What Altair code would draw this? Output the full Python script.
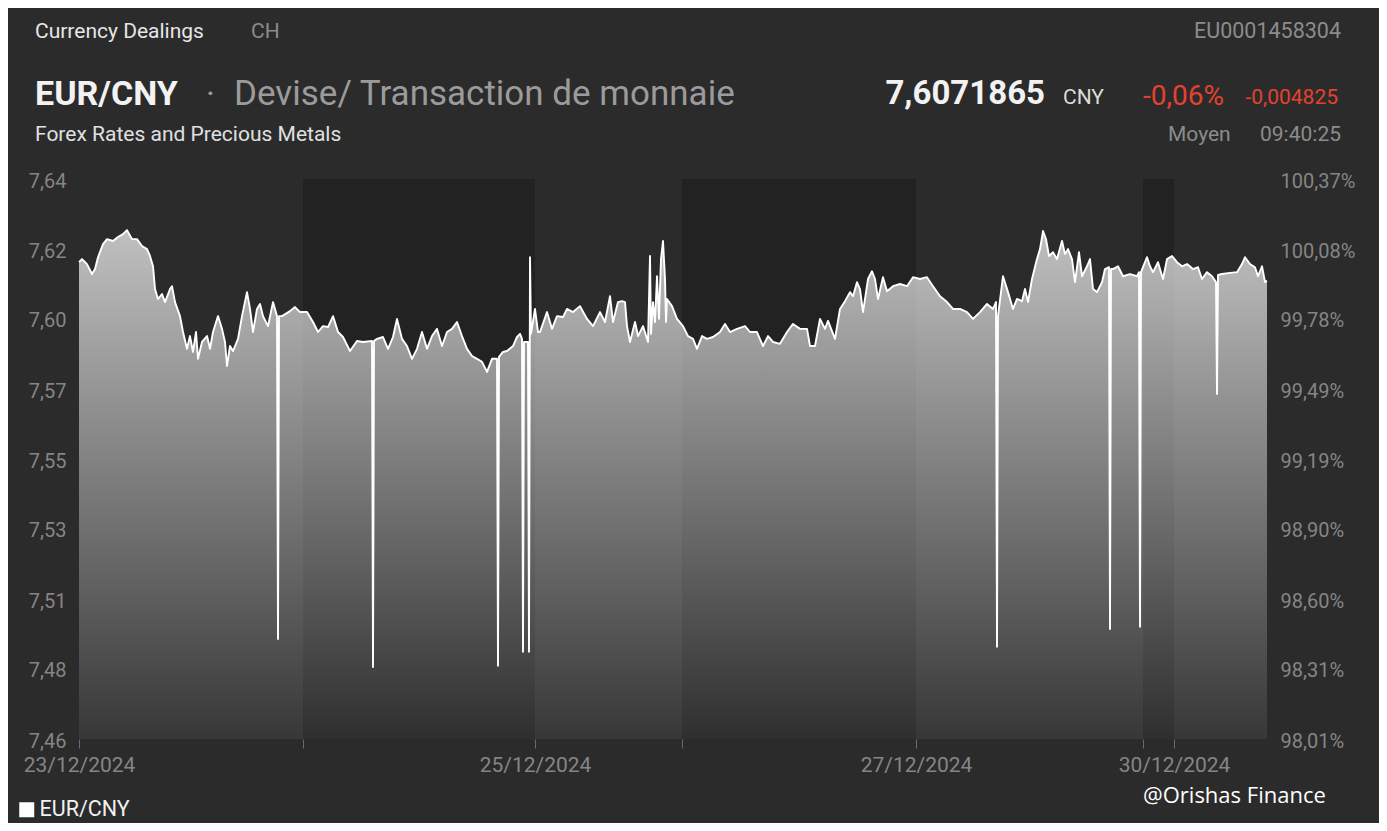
import json
import pandas as pd
import altair as alt

SERIES = "EUR/CNY"

# trading-time index (compressed sessions) and EUR/CNY mid rate
t_23 = [0, 3, 8, 13, 16, 19, 24, 28, 34, 39, 44, 48, 53, 58, 63, 68, 71, 74, 76, 79,
        83, 86, 91, 93, 96, 101, 104, 108, 111, 114, 117, 119, 123, 128, 131, 134, 139,
        143, 146, 148, 151, 154, 159, 163, 168, 171, 174, 178, 181, 184, 189, 194, 198,
        199, 200, 203, 211, 216, 221]
r_23 = [7.6132, 7.6142, 7.6126, 7.6094, 7.6110, 7.6148, 7.6190, 7.6206, 7.6200, 7.6213,
        7.6222, 7.6235, 7.6206, 7.6206, 7.6184, 7.6174, 7.6152, 7.6119, 7.6046, 7.6014,
        7.6030, 7.6004, 7.6046, 7.6055, 7.6004, 7.5959, 7.5908, 7.5854, 7.5895, 7.5844,
        7.5908, 7.5822, 7.5876, 7.5895, 7.5854, 7.5908, 7.5959, 7.5918, 7.5876, 7.5799,
        7.5863, 7.5847, 7.5886, 7.5959, 7.6036, 7.5982, 7.5908, 7.5982, 7.5998, 7.5959,
        7.5927, 7.6004, 7.5959, 7.4923, 7.5959, 7.5959, 7.5975, 7.5988, 7.5972]

t_24 = [228, 234, 239, 244, 249, 254, 259, 264, 271, 278, 284, 293, 294, 295, 298, 304,
        309, 314, 318, 323, 328, 333, 338, 343, 348, 353, 358, 363, 368, 373, 378, 383,
        388, 393, 398, 403, 408, 413, 418, 419, 420, 424, 428, 434, 438, 441, 443, 444,
        445, 449, 450, 451, 452]
r_24 = [7.5972, 7.5940, 7.5908, 7.5927, 7.5924, 7.5959, 7.5908, 7.5892, 7.5847, 7.5879,
        7.5876, 7.5879, 7.4833, 7.5879, 7.5886, 7.5892, 7.5854, 7.5892, 7.5950, 7.5886,
        7.5863, 7.5822, 7.5854, 7.5908, 7.5854, 7.5895, 7.5918, 7.5863, 7.5908, 7.5918,
        7.5940, 7.5895, 7.5854, 7.5831, 7.5822, 7.5812, 7.5780, 7.5822, 7.5822, 7.4837,
        7.5828, 7.5844, 7.5847, 7.5863, 7.5892, 7.5902, 7.5886, 7.4882, 7.5876, 7.5876,
        7.4882, 7.6148, 7.5902]

t_25 = [456, 459, 461, 468, 473, 478, 484, 488, 494, 501, 508, 514, 521, 526, 531, 534,
        539, 543, 546, 548, 551, 556, 559, 564, 569, 571, 572, 574, 576, 578, 580, 582,
        584, 586, 587, 588, 593, 598]
r_25 = [7.5982, 7.5908, 7.5908, 7.5972, 7.5918, 7.5959, 7.5956, 7.5982, 7.5972, 7.5991,
        7.5950, 7.5927, 7.5972, 7.5940, 7.6023, 7.5940, 7.6004, 7.6007, 7.6004, 7.5927,
        7.5876, 7.5940, 7.5895, 7.5927, 7.5876, 7.6152, 7.5902, 7.6004, 7.5940, 7.6087,
        7.5950, 7.6142, 7.6200, 7.6078, 7.5940, 7.6014, 7.5991, 7.5950]

t_26 = [604, 609, 614, 618, 623, 628, 634, 641, 646, 651, 658, 666, 671, 678, 684, 689,
        694, 701, 708, 714, 721, 728, 731, 736, 741, 746, 749, 756, 761, 766, 771, 774,
        778, 781, 784, 789, 793, 796, 799, 804, 808, 814, 821, 828, 834]
r_26 = [7.5927, 7.5895, 7.5886, 7.5854, 7.5895, 7.5886, 7.5892, 7.5908, 7.5934, 7.5908,
        7.5918, 7.5927, 7.5908, 7.5908, 7.5863, 7.5895, 7.5876, 7.5870, 7.5908, 7.5934,
        7.5918, 7.5918, 7.5863, 7.5863, 7.5950, 7.5918, 7.5944, 7.5886, 7.5982, 7.6007,
        7.6036, 7.6023, 7.6068, 7.6046, 7.5972, 7.6078, 7.6103, 7.6078, 7.6014, 7.6084,
        7.6039, 7.6055, 7.6062, 7.6055, 7.6084]

t_27 = [841, 848, 854, 861, 868, 874, 881, 888, 894, 901, 908, 914, 917, 918, 919, 924,
        929, 934, 938, 943, 946, 949, 953, 958, 961, 964, 967, 970, 974, 978, 983, 986,
        989, 993, 996, 1000, 1003, 1008, 1011, 1014, 1018, 1023, 1026, 1030, 1031, 1032,
        1034, 1039, 1044, 1051, 1058, 1060, 1061, 1062]
r_27 = [7.6078, 7.6084, 7.6055, 7.6023, 7.6004, 7.5982, 7.5982, 7.5972, 7.5950, 7.5972,
        7.5998, 7.5982, 7.6004, 7.4898, 7.5959, 7.6087, 7.6036, 7.5982, 7.6014, 7.6007,
        7.6046, 7.6004, 7.6078, 7.6142, 7.6174, 7.6232, 7.6206, 7.6152, 7.6164, 7.6142,
        7.6200, 7.6158, 7.6174, 7.6142, 7.6068, 7.6164, 7.6087, 7.6119, 7.6142, 7.6046,
        7.6036, 7.6068, 7.6110, 7.6116, 7.4955, 7.6110, 7.6110, 7.6119, 7.6087, 7.6094,
        7.6087, 7.6100, 7.4962, 7.6100]

t_30 = [1068, 1071, 1074, 1079, 1084, 1088, 1093, 1098, 1103, 1108, 1114, 1119, 1123,
        1128, 1133, 1137, 1138, 1139, 1143, 1149, 1158, 1163, 1166, 1171, 1176, 1179,
        1183, 1186, 1188]
r_30 = [7.6148, 7.6119, 7.6100, 7.6132, 7.6078, 7.6142, 7.6152, 7.6132, 7.6119, 7.6126,
        7.6110, 7.6116, 7.6078, 7.6100, 7.6087, 7.6068, 7.5709, 7.6091, 7.6094, 7.6097,
        7.6100, 7.6126, 7.6148, 7.6126, 7.6116, 7.6087, 7.6119, 7.6068, 7.6072]

t_all = t_23 + t_24 + t_25 + t_26 + t_27 + t_30
r_all = r_23 + r_24 + r_25 + r_26 + r_27 + r_30
assert len(t_all) == len(r_all)

# session boundaries (same trading-time index)
day_ticks = [0, 224, 456, 603, 837, 1064, 1095]
day_labels = ["23/12/2024", "", "25/12/2024", "", "27/12/2024", "", "30/12/2024"]
band_start = [224, 603, 1064]
band_end = [456, 837, 1095]
t_end = 1188

# value axis
y_ticks = [7.4602, 7.4827, 7.5051, 7.5276, 7.5500, 7.5725, 7.5950, 7.6174, 7.6399]
left_labels = ["7,46", "7,48", "7,51", "7,53", "7,55", "7,57", "7,60", "7,62", "7,64"]
right_labels = ["98,01%", "98,31%", "98,60%", "98,90%", "99,19%", "99,49%", "99,78%",
                "100,08%", "100,37%"]

W, H = 1188, 560
OX, OY = 79, 179  # page position of the plot origin (for header text placement)
FONT = "Roboto"
LABEL_GREY = "#858585"

df = pd.DataFrame({"t": t_all, "rate": r_all, "series": SERIES})
bands = pd.DataFrame({"start": band_start, "end": band_end})


def lookup(values, labels):
    return f"{json.dumps(labels)}[indexof({json.dumps(values)}, datum.value)]"


xscale = alt.Scale(domain=[0, t_end], nice=False, zero=False)
yscale = alt.Scale(domain=[y_ticks[0], y_ticks[-1]], nice=False, zero=False)

x_axis = alt.Axis(values=day_ticks, labelExpr=lookup(day_ticks, day_labels), title=None,
                  grid=False, domain=False, ticks=True, tickSize=9, tickColor="#6a6a6a",
                  tickWidth=1, labelColor=LABEL_GREY, labelFontSize=21, labelFont=FONT,
                  labelPadding=6, labelFlush=False, labelOverlap=False)


def y_axis(orient, labels):
    return alt.Axis(orient=orient, values=y_ticks, labelExpr=lookup(y_ticks, labels),
                    title=None, grid=False, domain=False, ticks=False, tickSize=0,
                    labelPadding=13, labelColor=LABEL_GREY, labelFontSize=20,
                    labelFont=FONT, labelOffset=2, labelFlush=False, labelOverlap=False)


band_layer = alt.Chart(bands).mark_rect(color="#222222").encode(
    x=alt.X("start:Q", scale=xscale, axis=x_axis),
    x2="end:Q",
    y=alt.value(0),
    y2=alt.value(H),
)

area_layer = alt.Chart(df).mark_area(
    interpolate="linear",
    color=alt.Gradient(
        gradient="linear",
        stops=[alt.GradientStop(color="rgba(255,255,255,0.70)", offset=0),
               alt.GradientStop(color="rgba(255,255,255,0.06)", offset=1)],
        x1=0, x2=0, y1=0, y2=1,
    ),
).encode(
    x=alt.X("t:Q", scale=xscale, axis=x_axis),
    y=alt.Y("rate:Q", scale=yscale, axis=y_axis("left", left_labels)),
    y2=alt.datum(y_ticks[0]),
)

line_layer = alt.Chart(df).mark_line(
    color="#ffffff", strokeWidth=1.9, strokeJoin="round", interpolate="linear"
).encode(
    x=alt.X("t:Q", scale=xscale, axis=x_axis),
    y=alt.Y("rate:Q", scale=yscale, axis=y_axis("right", right_labels)),
)

legend_layer = alt.Chart(pd.DataFrame({"series": [SERIES]})).mark_square(
    size=225, opacity=1, filled=True
).encode(
    x=alt.value(-5000),
    y=alt.value(-5000),
    color=alt.Color(
        "series:N",
        scale=alt.Scale(range=["#ffffff"]),
        legend=alt.Legend(title=None, orient="none", legendX=-63, legendY=620,
                          symbolType="square", symbolSize=225, symbolStrokeWidth=0,
                          symbolFillColor="#ffffff", symbolOpacity=1,
                          labelColor="#f2f2f2", labelFont=FONT, labelFontSize=21.5,
                          labelOffset=2, padding=0),
    ),
)

header = [
    # text, page x, page baseline y, size, colour, weight, align, font
    ("Currency Dealings", 35, 38, 21, "#e6e6e6", "normal", "left", FONT),
    ("CH", 251, 38, 21, "#8c8c8c", "normal", "left", FONT),
    ("EU0001458304", 1341, 38, 21.5, "#8c8c8c", "normal", "right", FONT),
    ("EUR/CNY", 35, 105, 34, "#f2f2f2", "bold", "left", FONT),
    ("·", 206, 105, 34, "#9b9b9b", "normal", "left", FONT),
    ("Devise/ Transaction de monnaie", 234, 105, 35, "#9b9b9b", "normal", "left", FONT),
    ("7,6071865", 1045, 104, 33, "#f2f2f2", "bold", "right", FONT),
    ("CNY", 1063, 104, 21, "#dcdcdc", "normal", "left", FONT),
    ("-0,06%", 1143, 105, 28, "#e5412f", "normal", "left", FONT),
    ("-0,004825", 1338, 104, 21, "#e5412f", "normal", "right", FONT),
    ("Forex Rates and Precious Metals", 35, 141, 21, "#e0e0e0", "normal", "left", FONT),
    ("Moyen", 1168, 141, 21, "#8c8c8c", "normal", "left", FONT),
    ("09:40:25", 1341, 141, 21, "#8c8c8c", "normal", "right", FONT),
    ("@Orishas Finance", 1143, 803, 22, "#ffffff", "normal", "left", "Open Sans"),
]

text_layers = []
for s, px, py, size, col, weight, align, font in header:
    text_layers.append(
        alt.Chart(pd.DataFrame({"label": [s]})).mark_text(
            align=align, baseline="alphabetic", fontSize=size, color=col,
            fontWeight=weight, font=font,
        ).encode(text="label:N", x=alt.value(px - OX), y=alt.value(py - OY))
    )

chart = alt.layer(band_layer, area_layer, line_layer, legend_layer, *text_layers).resolve_scale(
    y="independent"
).properties(
    width=W,
    height=H,
    padding={"left": OX - 8, "top": OY - 8, "right": 1371 - (OX - 8) - W, "bottom": 815 - (OY - 8) - H},
    autosize=alt.AutoSizeParams(type="none"),
).configure(background="#2b2b2b").configure_view(stroke="transparent")

chart.save("out.html", embed_options={"renderer": "svg", "actions": False})
